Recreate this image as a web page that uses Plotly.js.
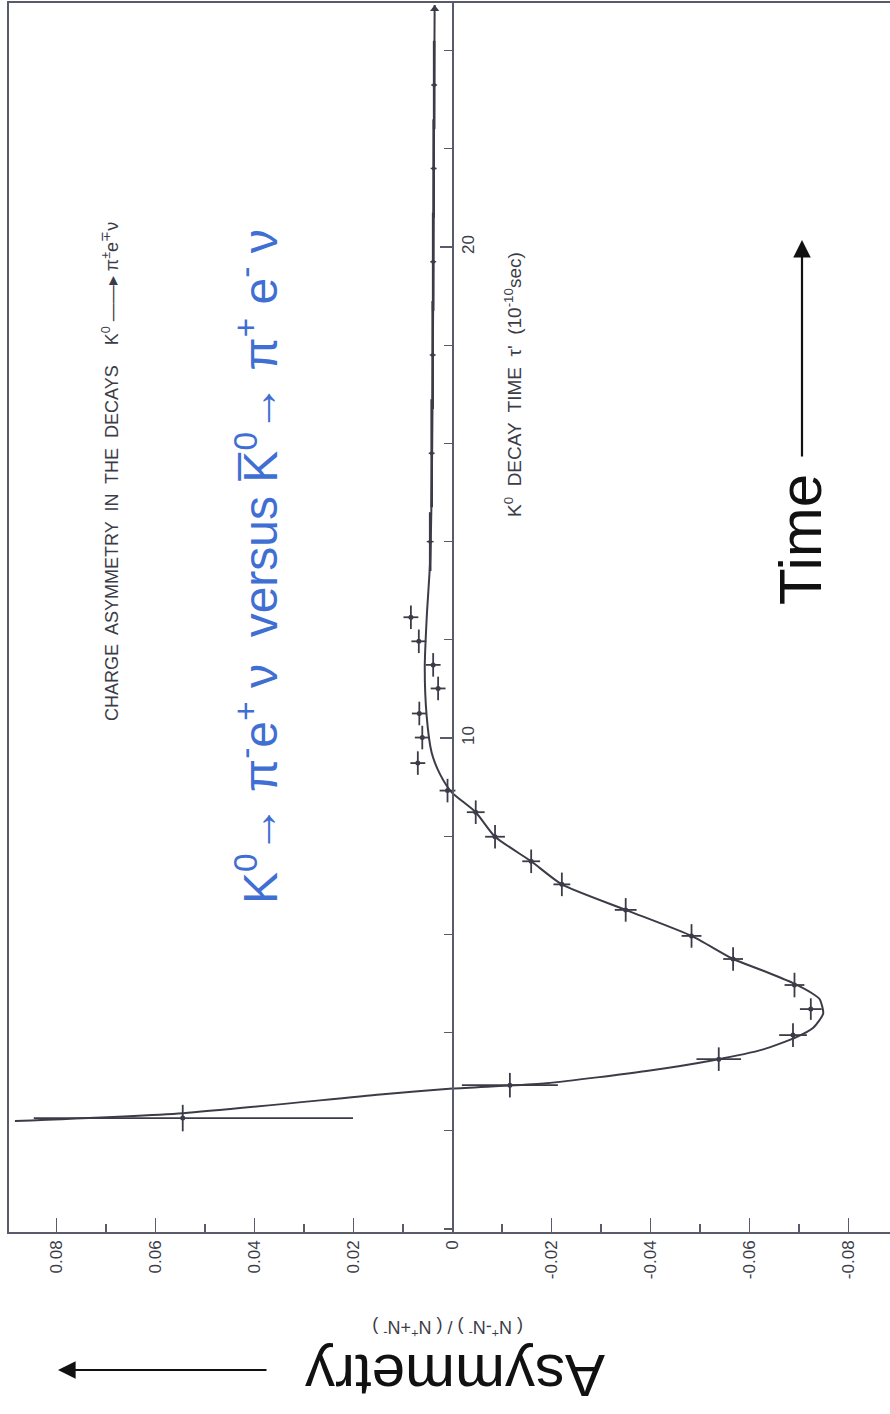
<!DOCTYPE html>
<html>
<head>
<meta charset="utf-8">
<script src="https://cdn.plot.ly/plotly-3.0.1.min.js"></script>
<style>html,body{margin:0;padding:0;background:#fff;}#chart{width:890px;height:1414px;}</style>
</head>
<body>
<div id="chart"></div>
<script>
// ---------- data ----------
// decay time tau' (10^-10 s) and charge asymmetry (N+ - N-)/(N+ + N-)
const pointTime = [2.26, 2.93, 3.46, 3.95, 4.48, 4.97, 5.50, 5.97, 6.50, 7.02, 7.49, 7.99, 8.49, 8.93, 9.49, 10.01, 10.50, 11.01, 11.49, 11.97, 12.46];
const pointAsym = [0.0545, -0.0116, -0.0538, -0.0688, -0.0724, -0.0691, -0.0567, -0.0483, -0.0350, -0.0221, -0.0159, -0.0086, -0.0047, 0.0010, 0.0070, 0.0061, 0.0067, 0.0029, 0.0039, 0.0068, 0.0084];
const asymErrPlus  = [0.0301, 0.0097, 0.0045, 0.0028, 0.0022, 0.0020, 0.0020, 0.0020, 0.0022, 0.0017, 0.0018, 0.0020, 0.0018, 0.0016, 0.0015, 0.0015, 0.0015, 0.0015, 0.0015, 0.0015, 0.0015];
const asymErrMinus = [0.0344, 0.0097, 0.0045, 0.0028, 0.0022, 0.0020, 0.0020, 0.0020, 0.0022, 0.0017, 0.0018, 0.0020, 0.0018, 0.0016, 0.0015, 0.0015, 0.0015, 0.0015, 0.0015, 0.0015, 0.0015];
const timeHalfBin  = [0.27, 0.25, 0.24, 0.24, 0.22, 0.25, 0.24, 0.24, 0.24, 0.24, 0.24, 0.24, 0.24, 0.24, 0.24, 0.24, 0.24, 0.24, 0.24, 0.24, 0.24];

// late, wide-bin points lying on the curve
const lateTime = [14.0, 15.8, 17.8, 19.7, 21.6, 23.3];
const lateAsym = [0.0045, 0.0042, 0.0040, 0.0039, 0.0038, 0.0037];
const lateAsymErr = [0.0007, 0.0006, 0.0006, 0.0006, 0.0006, 0.0006];
const lateHalfBin = [0.6, 1.1, 1.1, 1.0, 1.0, 0.9];

// end arrow of the curve
const arrowTime = [24.85];
const arrowAsym = [0.0036];

// fitted curve
const curveTime = [2.20, 2.36, 2.74, 2.86, 2.97, 3.22, 3.44, 3.66, 3.91, 4.10, 4.39, 4.68, 4.83, 5.01, 5.26, 5.50, 5.97, 6.50, 7.02, 7.49, 7.99, 8.49, 8.90, 9.26, 9.70, 10.43, 11.44, 12.46, 13.63, 15.87, 18.92, 22.99, 24.93];
const curveAsym = [0.0884, 0.0544, 0.0146, 0.0, -0.0190, -0.0392, -0.0527, -0.0628, -0.0695, -0.0729, -0.0749, -0.0742, -0.0722, -0.0688, -0.0628, -0.0567, -0.0483, -0.0350, -0.0221, -0.0159, -0.0086, -0.0047, 0.0002, 0.0025, 0.0042, 0.0052, 0.0056, 0.0052, 0.0045, 0.0041, 0.0039, 0.0037, 0.0036];

// axes
const asymTickVals = [0.08, 0.06, 0.04, 0.02, 0, -0.02, -0.04, -0.06, -0.08];
const asymTickText = ['0.08', '0.06', '0.04', '0.02', '0', '-0.02', '-0.04', '-0.06', '-0.08'];
const timeTickVals = [10, 20];
const timeTickText = ['10', '20'];

// ---------- layout ----------
const W = 890, H = 1414;
const M = {l: 9, r: 0, t: 3, b: 182};
const xRange = [0.0896, -0.0884];
const yRange = [-0.06, 24.97];
const zeroPos = xRange[0] / (xRange[0] - xRange[1]);
const px = v => (v - M.l) / (W - M.l - M.r);
const py = v => (H - M.b - v) / (H - M.t - M.b);

const ink = '#3c3c48';
const lineCol = '#5a5b68';
const blue = '#3f6fd3';
const F = 'Liberation Sans, Arial, sans-serif';

const traces = [
  {
    x: curveAsym, y: curveTime, type: 'scatter', mode: 'lines',
    line: {color: ink, width: 2, shape: 'spline', smoothing: 0.6},
    yaxis: 'y2', hoverinfo: 'skip'
  },
  {
    x: pointAsym, y: pointTime, type: 'scatter', mode: 'markers',
    marker: {color: ink, size: 5},
    error_x: {type: 'data', symmetric: false, array: asymErrPlus, arrayminus: asymErrMinus, color: ink, thickness: 1.8, width: 0},
    error_y: {type: 'data', array: timeHalfBin, color: ink, thickness: 1.8, width: 0}
  },
  {
    x: lateAsym, y: lateTime, type: 'scatter', mode: 'markers',
    marker: {color: ink, size: 4},
    error_x: {type: 'data', array: lateAsymErr, color: ink, thickness: 1.4, width: 0},
    error_y: {type: 'data', array: lateHalfBin, color: ink, thickness: 2.6, width: 0}
  },
  {
    x: arrowAsym, y: arrowTime, type: 'scatter', mode: 'markers',
    marker: {color: ink, size: 8, symbol: 'triangle-up'}
  }
];

const annotations = [
  {
    text: 'CHARGE  ASYMMETRY  IN  THE  DECAYS    K<sup>0</sup> ——▸ π<sup>±</sup>e<sup>∓</sup>ν',
    x: px(110), y: py(472), xref: 'paper', yref: 'paper', showarrow: false, textangle: -90,
    xanchor: 'center', yanchor: 'middle', font: {family: F, size: 18, color: ink}
  },
  {
    text: 'K<sup>0</sup>  DECAY  TIME  τ\'  (10<sup>-10</sup>sec)',
    x: px(513), y: py(385), xref: 'paper', yref: 'paper', showarrow: false, textangle: -90,
    xanchor: 'center', yanchor: 'middle', font: {family: F, size: 19, color: ink}
  },
  {
    text: 'K<sup>0</sup>→ π<sup>-</sup>e<sup>+</sup> ν  versus K\u0305<sup>0</sup>→ π<sup>+</sup> e<sup>-</sup> ν',
    x: px(257), y: py(567), xref: 'paper', yref: 'paper', showarrow: false, textangle: -90,
    xanchor: 'center', yanchor: 'middle', font: {family: F, size: 48, color: blue}
  },
  {
    text: 'Time',
    x: px(800), y: py(540), xref: 'paper', yref: 'paper', showarrow: false, textangle: -90,
    xanchor: 'center', yanchor: 'middle', font: {family: F, size: 60, color: '#111'}
  },
  {
    text: '', x: px(802), y: py(240), ax: px(802), ay: py(458),
    xref: 'paper', yref: 'paper', axref: 'paper', ayref: 'paper',
    showarrow: true, arrowhead: 2, arrowsize: 1.6, arrowwidth: 2.2, arrowcolor: '#111'
  },
  {
    text: 'Asymmetry',
    x: px(455), y: py(1376), xref: 'paper', yref: 'paper', showarrow: false, textangle: 180,
    xanchor: 'center', yanchor: 'middle', font: {family: F, size: 60, color: '#111'}
  },
  {
    text: '', x: px(58), y: py(1370), ax: px(268), ay: py(1370),
    xref: 'paper', yref: 'paper', axref: 'paper', ayref: 'paper',
    showarrow: true, arrowhead: 2, arrowsize: 1.6, arrowwidth: 2.2, arrowcolor: '#111'
  },
  {
    text: '( N<sup>+</sup>-N<sup>-</sup> ) / ( N<sup>+</sup>+N<sup>-</sup> )',
    x: px(448), y: py(1328), xref: 'paper', yref: 'paper', showarrow: false, textangle: 180,
    xanchor: 'center', yanchor: 'middle', font: {family: F, size: 18, color: ink}
  }
];

const layout = {
  width: W, height: H,
  margin: M,
  paper_bgcolor: '#fff', plot_bgcolor: '#fff',
  showlegend: false,
  xaxis: {
    range: xRange, showgrid: false, zeroline: false,
    showline: true, linecolor: lineCol, linewidth: 1.6, mirror: true,
    tickmode: 'array', tickvals: asymTickVals, ticktext: asymTickText,
    ticks: 'inside', ticklen: 14, tickwidth: 1.6, tickcolor: lineCol,
    minor: {tick0: 0, dtick: 0.01, ticks: 'inside', ticklen: 8, tickwidth: 1.6, tickcolor: lineCol},
    tickangle: -90, tickfont: {family: F, size: 17, color: ink},
    automargin: false
  },
  yaxis: {
    range: yRange, showgrid: false, zeroline: false,
    showline: true, linecolor: lineCol, linewidth: 1.6,
    showticklabels: false, ticks: '', automargin: false
  },
  yaxis2: {
    range: yRange, overlaying: 'y', anchor: 'free', position: zeroPos, side: 'right',
    showgrid: false, zeroline: false,
    showline: true, linecolor: lineCol, linewidth: 1.6,
    tickmode: 'array', tickvals: timeTickVals, ticktext: timeTickText,
    ticks: 'inside', ticklen: 12, tickwidth: 1.3, tickcolor: lineCol,
    minor: {tick0: 0, dtick: 2, ticks: 'inside', ticklen: 8, tickwidth: 1.3, tickcolor: lineCol},
    tickangle: -90, tickfont: {family: F, size: 17, color: ink},
    automargin: false
  },
  annotations: annotations
};

Plotly.newPlot('chart', traces, layout, {staticPlot: true, displayModeBar: false});
</script>
</body>
</html>
